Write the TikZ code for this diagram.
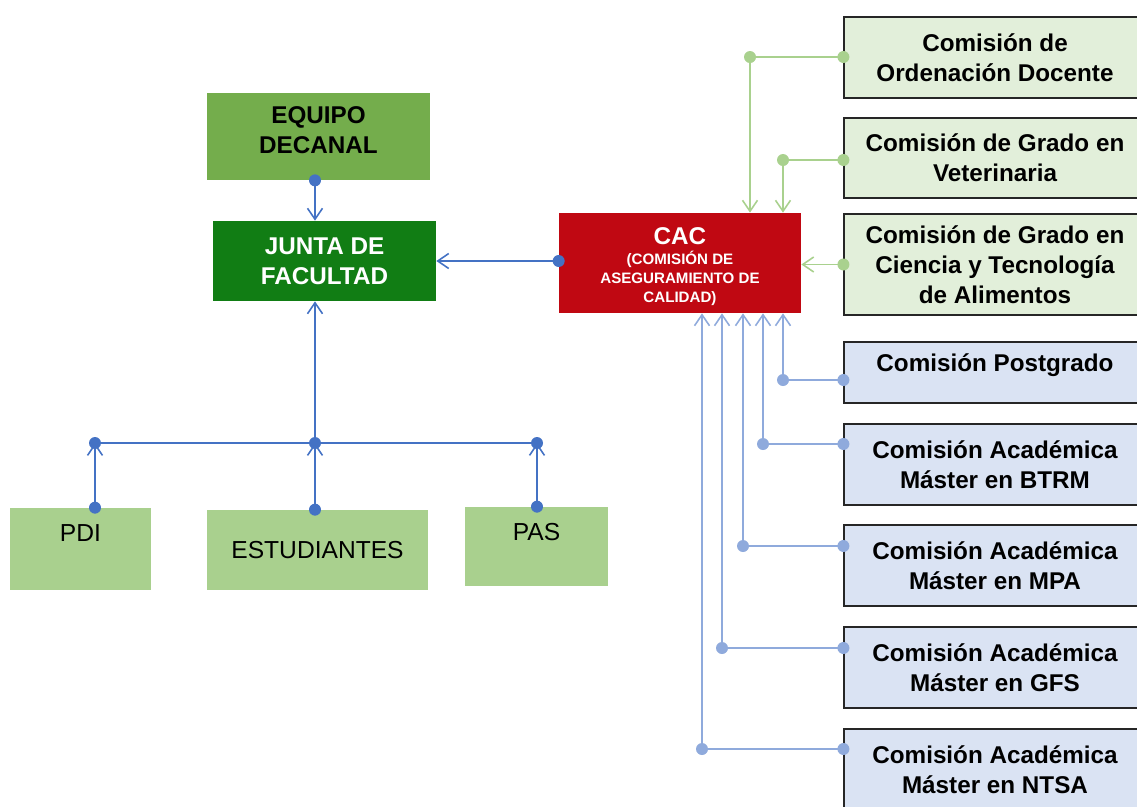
\documentclass[tikz,border=0pt]{standalone}
\usepackage{fontspec}
\setmainfont{Liberation Sans}
\usetikzlibrary{arrows.meta}
\definecolor{linkblue}{HTML}{4472C4}
\definecolor{linkgreen}{HTML}{A9D18E}
\definecolor{linklight}{HTML}{8FAADC}
\definecolor{equipofill}{HTML}{74AD4C}
\definecolor{juntafill}{HTML}{117D14}
\definecolor{cacfill}{HTML}{C00812}
\definecolor{basefill}{HTML}{A9D08E}
\definecolor{gradofill}{HTML}{E2EFDA}
\definecolor{masterfill}{HTML}{DAE3F3}
\newcommand{\cacsmall}{\fontsize{8.6}{10.8}\selectfont}
\tikzset{
    box/.style={rectangle, inner sep=2pt, align=center, font=\bfseries\fontsize{13.8}{17}\selectfont},
    sidebox/.style={box, draw=black!85, line width=0.7pt, minimum width=6.04cm},
    basebox/.style={rectangle, inner sep=2pt, fill=basefill, font=\fontsize{14}{17}\selectfont},
    link/.style={line width=0.9pt, -{Straight Barb[length=0.22cm,width=0.3cm]}},
    dot/.style={radius=0.12cm}
}
\begin{document}
\begin{tikzpicture}[x=0.02cm, y=-0.02cm]
            \useasboundingbox (0,0) rectangle (1137,806);
            % left side
            \node [box, fill=equipofill, minimum width=4.46cm, minimum height=1.74cm] (equipo) at (318.5,136.5) {EQUIPO\\DECANAL\\[-10pt]};
            \node [box, fill=juntafill, text=white, minimum width=4.46cm, minimum height=1.6cm] (junta) at (324.5,261) {JUNTA DE\\FACULTAD};
            \node [box, fill=cacfill, text=white, minimum width=4.84cm, minimum height=2cm, text height=1.65cm] (cac) at (680,263) {CAC\\[-5.5pt]\cacsmall(COMISIÓN DE\\[-6.2pt]\cacsmall ASEGURAMIENTO DE\\[-6.2pt]\cacsmall CALIDAD)};
            \node [basebox, minimum width=2.82cm, minimum height=1.64cm, text depth=0.64cm] (pdi) at (80.5,549) {PDI};
            \node [basebox, minimum width=4.42cm, minimum height=1.6cm] (est) at (317.5,550) {ESTUDIANTES};
            \node [basebox, minimum width=2.86cm, minimum height=1.58cm, text depth=0.6cm] (pas) at (536.5,546.5) {PAS};
            % right side
            \node [sidebox, fill=gradofill, minimum height=1.62cm] (od) at (995,57.5) {Comisión de\\Ordenación Docente};
            \node [sidebox, fill=gradofill, minimum height=1.6cm] (gv) at (995,158) {Comisión de Grado en\\Veterinaria};
            \node [sidebox, fill=gradofill, minimum height=2.02cm] (gcta) at (995,264.5) {Comisión de Grado en\\Ciencia y Tecnología\\de Alimentos};
            \node [sidebox, fill=masterfill, minimum height=1.22cm, text depth=0.4cm] (pg) at (995,372.5) {Comisión Postgrado};
            \node [sidebox, fill=masterfill, minimum height=1.62cm] (btrm) at (995,464.5) {Comisión Académica\\Máster en BTRM};
            \node [sidebox, fill=masterfill, minimum height=1.62cm] (mpa) at (995,565.5) {Comisión Académica\\Máster en MPA};
            \node [sidebox, fill=masterfill, minimum height=1.62cm] (gfs) at (995,667.5) {Comisión Académica\\Máster en GFS};
            \node [sidebox, fill=masterfill, minimum height=1.62cm] (ntsa) at (995,769.5) {Comisión Académica\\Máster en NTSA};
            % bends
            \coordinate (jbus) at (315,443);
            \coordinate (pdibus) at (95,443);
            \coordinate (pasbus) at (537,443);
            \coordinate (odbend) at (750,57);
            \coordinate (gvbend) at (783,160);
            \coordinate (pgbend) at (783,380);
            \coordinate (btrmbend) at (763,444);
            \coordinate (mpabend) at (743,546);
            \coordinate (gfsbend) at (722,648);
            \coordinate (ntsabend) at (702,749);
            % blue links
            \draw [link, linkblue] (equipo.south -| jbus) -- (junta.north -| jbus);
            \draw [link, linkblue] (cac.west |- junta.east) -- (junta.east);
            \draw [link, linkblue] (jbus) -- (junta.south -| jbus);
            \draw [linkblue, line width=0.9pt] (pdibus) -- (pasbus);
            \draw [link, linkblue] (pdi.north -| pdibus) -- (pdibus);
            \draw [link, linkblue] (est.north -| jbus) -- (jbus);
            \draw [link, linkblue] (pas.north -| pasbus) -- (pasbus);
            \fill [linkblue] (equipo.south -| jbus) circle [dot];
            \fill [linkblue] (cac.west |- junta.east) circle [dot];
            \fill [linkblue] (pdibus) circle [dot];
            \fill [linkblue] (jbus) circle [dot];
            \fill [linkblue] (pasbus) circle [dot];
            \fill [linkblue] (pdi.north -| pdibus) circle [dot];
            \fill [linkblue] (est.north -| jbus) circle [dot];
            \fill [linkblue] (pas.north -| pasbus) circle [dot];
            % green links
            \draw [link, linkgreen] (od.west |- odbend) -- (odbend) -- (odbend |- cac.north);
            \draw [link, linkgreen] (gv.west |- gvbend) -- (gvbend) -- (gvbend |- cac.north);
            \draw [link, linkgreen] (gcta.west) -- (cac.east |- gcta.west);
            \fill [linkgreen] (od.west |- odbend) circle [dot];
            \fill [linkgreen] (odbend) circle [dot];
            \fill [linkgreen] (gv.west |- gvbend) circle [dot];
            \fill [linkgreen] (gvbend) circle [dot];
            \fill [linkgreen] (gcta.west) circle [dot];
            % light blue links
            \foreach \b in {pg, btrm, mpa, gfs, ntsa} {
                \draw [link, linklight] (\b.west |- \b bend) -- (\b bend) -- (\b bend |- cac.south);
                \fill [linklight] (\b.west |- \b bend) circle [dot];
                \fill [linklight] (\b bend) circle [dot];
            }
\end{tikzpicture}
\end{document}
